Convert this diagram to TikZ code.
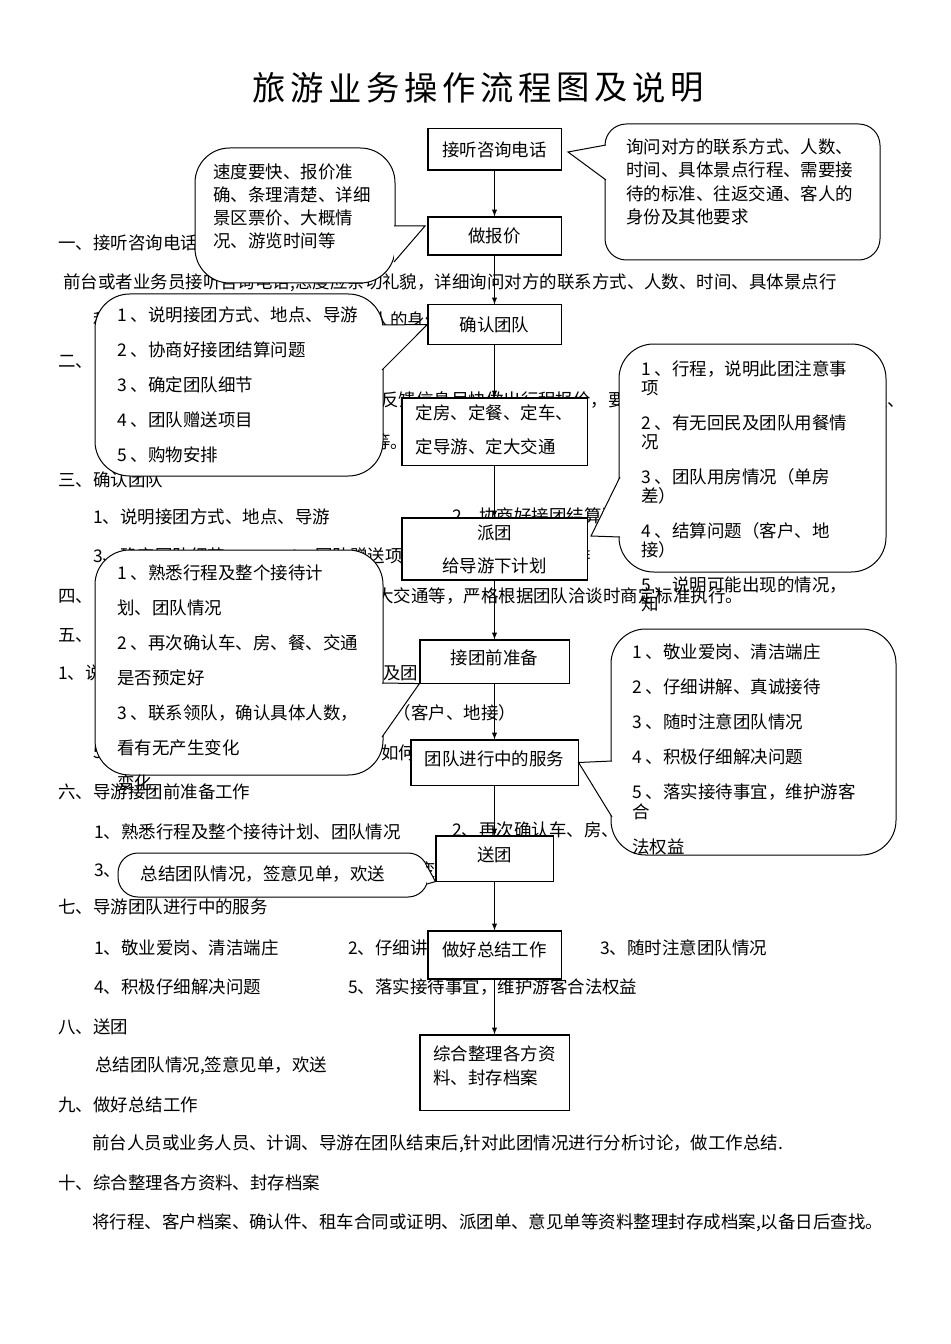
\documentclass[tikz,border=0pt]{standalone}
\usepackage{fontspec}
\setmainfont{Noto Sans CJK SC}

\begin{document}
\begin{tikzpicture}[
        x=0.75pt, y=-0.75pt,
        every node/.style={inner sep=0pt, font=\fontsize{13.1}{17.6}\selectfont},
        txt/.style={anchor=west},
        box/.style={rectangle, draw, fill=white, line width=0.8pt, minimum width=99.8pt, minimum height=30pt},
        note/.style={draw, fill=white, line width=0.75pt},
        notetext/.style={anchor=west, align=left},
        arrow/.style={->, >=latex, line width=0.75pt}
    ]
    \useasboundingbox (0,0) rectangle (950,1344);

    % title
    \foreach \c [count=\i] in {旅,游,业,务,操,作,流,程,图,及,说,明}
        \node[font=\fontsize{25}{30}\selectfont] (title\i) at (269+38*\i-38,88) {\c};

    % page text
    \node[txt] (sec1) at (58,243) {一、接听咨询电话};
    \node[txt] (par1) at (63,283) {前台或者业务员接听咨询电话,态度应亲切礼貌，详细询问对方的联系方式、人数、时间、具体景点行};
    \node[txt] (par1b) at (93,320) {程、需要接待的标准、往返交通、客人的身份及其他要求。};
    \node[txt] (sec2) at (58,362) {二、};
    \node[txt] (par2) at (381,400) {反馈信息尽快做出行程报价，要求速度要快、报价准确、条理清楚、};
    \node[txt] (par2b) at (373,442) {等。};
    \node[txt] (sec3) at (58,480) {三、确认团队};
    \node[txt] (item31) at (93,517) {1、说明接团方式、地点、导游};
    \node[txt] (item32) at (452,516) {2、协商好接团结算问题};
    \node[txt] (item33) at (93,556) {3、确定团队细节};
    \node[txt] (item34) at (288,556) {4、团队赠送项目};
    \node[txt] (item35) at (494,556) {5、购物安排};
    \node[txt] (sec4) at (58,596) {四、};
    \node[txt] (par4) at (376,596) {大交通等，严格根据团队洽谈时商定标准执行。};
    \node[txt] (sec5) at (58,635) {五、};
    \node[txt] (item51) at (58,673) {1、说明此团注意事项};
    \node[txt] (item52) at (383,673) {及团队用餐情况};
    \node[txt] (item54) at (376,713) {题（客户、地接）};
    \node[txt] (item55) at (93,753) {5、};
    \node[txt] (item55b) at (381,753) {如何解决};
    \node[txt] (sec6) at (58,792) {六、导游接团前准备工作};
    \node[txt] (item61) at (94,832) {1、熟悉行程及整个接待计划、团队情况};
    \node[txt] (item62) at (452,830) {2、再次确认车、房、餐、交通是否预定好};
    \node[txt] (item63) at (94,870) {3、联系领队，确认具体人数，看有无产生变化};
    \node[txt] (sec7) at (58,907) {七、导游团队进行中的服务};
    \node[txt] (item71) at (94,948) {1、敬业爱岗、清洁端庄};
    \node[txt] (item72) at (348,948) {2、仔细讲解、真诚接待};
    \node[txt] (item73) at (600,948) {3、随时注意团队情况};
    \node[txt] (item74) at (94,987) {4、积极仔细解决问题};
    \node[txt] (item75) at (348,987) {5、落实接待事宜，维护游客合法权益};
    \node[txt] (sec8) at (58,1027) {八、送团};
    \node[txt] (par8) at (95,1066) {总结团队情况,签意见单，欢送};
    \node[txt] (sec9) at (58,1105) {九、做好总结工作};
    \node[txt] (par9) at (92,1144) {前台人员或业务人员、计调、导游在团队结束后,针对此团情况进行分析讨论，做工作总结.};
    \node[txt] (sec10) at (58,1183) {十、综合整理各方资料、封存档案};
    \node[txt] (par10) at (92,1223) {将行程、客户档案、确认件、租车合同或证明、派团单、意见单等资料整理封存成档案,以备日后查找。};

    % flow boxes
    \node[box, minimum height=30.8pt] (call) at (494.5,149.5) {接听咨询电话};
    \node[box, minimum height=28.5pt] (quote) at (494.5,236) {做报价};
    \node[box, minimum height=29.3pt] (confirm) at (494.5,324.5) {确认团队};
    \node[box, minimum width=138.8pt, minimum height=50.3pt, align=left, text depth=4pt, font=\fontsize{13.1}{25.5}\selectfont] (book) at (494.5,431.5) {定房、定餐、定车、\\定导游、定大交通};
    \node[box, minimum width=138.8pt, minimum height=46.5pt, align=center, font=\fontsize{13.1}{24.75}\selectfont] (dispatch) at (494.5,549) {派团\\给导游下计划};
    \node[box, minimum width=111.8pt, minimum height=32.3pt, text depth=6pt] (prep) at (494.5,661.5) {接团前准备};
    \node[box, minimum width=125.3pt, minimum height=33.8pt, text depth=6pt] (service) at (494.5,762.5) {团队进行中的服务};
    \node[box, minimum width=87.8pt, minimum height=33.8pt, text depth=6pt] (send) at (494.5,858.5) {送团};
    \node[box, minimum height=36pt, text depth=8.5pt] (summary) at (494.5,955) {做好总结工作};
    \node[box, minimum width=111.8pt, minimum height=56.3pt, align=left, text depth=10.5pt, font=\fontsize{13.1}{18}\selectfont] (archive) at (494.5,1072.5) {综合整理各方资\\料、封存档案};

    \draw[arrow] (call) -- (quote);
    \draw[arrow] (quote) -- (confirm);
    \draw[arrow] (confirm) -- (book);
    \draw[arrow] (book) -- (dispatch);
    \draw[arrow] (dispatch) -- (prep);
    \draw[arrow] (prep) -- (service);
    \draw[arrow] (service) -- (send);
    \draw[arrow] (send) -- (summary);
    \draw[arrow] (summary) -- (archive);

    % callouts
    \draw[note, rounded corners=16pt] (605,124) rectangle (880,260);
    \draw[note] (606,145) -- (568,152) -- (606,180);
    \node[notetext] (noteCall) at (626,182) {询问对方的联系方式、人数、\\时间、具体景点行程、需要接\\待的标准、往返交通、客人的\\身份及其他要求};

    \draw[note, rounded corners=26pt] (195,148) rectangle (395,283);
    \draw[note] (394,226) -- (425,226) -- (394,262);
    \node[notetext, font=\fontsize{13.1}{17.25}\selectfont] (noteQuote) at (213,206.5) {速度要快、报价准\\确、条理清楚、详细\\景区票价、大概情\\况、游览时间等};

    \draw[note, rounded corners=26pt] (95,294) rectangle (383,476);
    \draw[note] (382,325) -- (confirm.west) -- (382,370);
    \node[notetext, font=\fontsize{13.1}{26.25}\selectfont] (noteConfirm) at (117,385) {1 、说明接团方式、地点、导游\\2 、协商好接团结算问题\\3 、确定团队细节\\4 、团队赠送项目\\5 、购物安排};

    \draw[note, rounded corners=26pt] (619,344) rectangle (886,572);
    \draw[note] (620,477) -- (591,536) -- (620,537);
    \node[notetext, font=\fontsize{13.1}{14.25}\selectfont] (noteDispatch) at (641,486) {1 、行程，说明此团注意事\\项\\[12pt]2 、有无回民及团队用餐情\\况\\[12pt]3 、团队用房情况（单房\\差）\\[12pt]4 、结算问题（客户、地\\接）\\[12pt]5 、说明可能出现的情况，\\知};

    \draw[note, rounded corners=26pt] (95,550) rectangle (383,775);
    \draw[note] (382,683) -- (prep.south west) -- (382,737);
    \node[notetext, font=\fontsize{13.1}{26.25}\selectfont] (notePrep) at (117,677.5) {1 、熟悉行程及整个接待计\\划、团队情况\\2 、再次确认车、房、餐、交通\\是否预定好\\3 、联系领队，确认具体人数，\\看有无产生变化\\变化};

    \draw[note, rounded corners=26pt] (611,629) rectangle (896,855);
    \draw[note] (612,761) -- (service.east) -- (612,817);
    \node[notetext, font=\fontsize{13.1}{26.25}\selectfont] (noteService) at (632,749.5) {1 、敬业爱岗、清洁端庄\\2 、仔细讲解、真诚接待\\3 、随时注意团队情况\\4 、积极仔细解决问题\\5 、落实接待事宜，维护游客\\[-11.25pt]合\\法权益};

    \draw[note, rounded corners=15pt] (118,853) rectangle (428,897);
    \draw[note] (427,866) -- (send.south west) -- (427,884);
    \node (noteSend) at (263,874) {总结团队情况，签意见单，欢送};
\end{tikzpicture}
\end{document}
